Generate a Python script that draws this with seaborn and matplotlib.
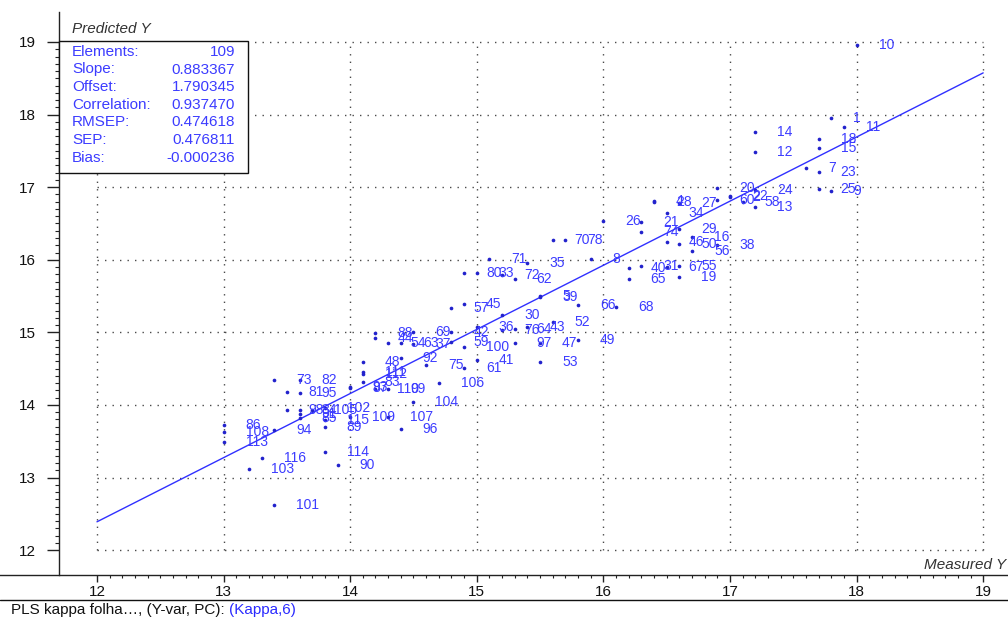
import matplotlib
matplotlib.use("Agg")
import numpy as np
import pandas as pd
import matplotlib.pyplot as plt
import seaborn as sns
from matplotlib.patches import Rectangle
from matplotlib.lines import Line2D
from matplotlib.ticker import FixedLocator

# ---------------------------------------------------------------- data
sample_ids = [10, 1, 11, 18, 15, 14, 12, 7, 23, 25,
              9, 20, 60, 22, 2, 58, 24, 13, 38, 16,
              56, 29, 50, 46, 34, 27, 28, 4, 21, 74,
              26, 31, 40, 65, 67, 55, 19, 8, 70, 78,
              66, 68, 49, 52, 47, 53, 39, 5, 43, 64,
              76, 97, 30, 36, 100, 41, 61, 42, 59, 57,
              45, 80, 33, 71, 72, 62, 35, 69, 63, 37,
              54, 88, 44, 48, 92, 75, 106, 104, 112, 111,
              83, 93, 87, 110, 99, 102, 109, 115, 89, 107,
              96, 105, 73, 82, 81, 95, 98, 84, 91, 85,
              94, 86, 108, 113, 116, 103, 101, 114, 90]

measured = [18.0, 17.8, 17.9, 17.7, 17.7, 17.2, 17.2, 17.6, 17.7, 17.7,
            17.8, 16.9, 16.9, 17.0, 17.0, 17.1, 17.2, 17.2, 16.9, 16.7,
            16.7, 16.6, 16.6, 16.5, 16.5, 16.6, 16.4, 16.4, 16.3, 16.3,
            16.0, 16.3, 16.2, 16.2, 16.5, 16.6, 16.6, 15.9, 15.6, 15.7,
            15.8, 16.1, 15.8, 15.6, 15.5, 15.5, 15.5, 15.5, 15.4, 15.3,
            15.2, 15.3, 15.2, 15.0, 14.9, 15.0, 14.9, 14.8, 14.8, 14.8,
            14.9, 14.9, 15.0, 15.1, 15.2, 15.3, 15.4, 14.5, 14.4, 14.5,
            14.3, 14.2, 14.2, 14.1, 14.4, 14.6, 14.7, 14.5, 14.1, 14.1,
            14.1, 14.0, 14.0, 14.2, 14.3, 13.8, 14.0, 13.8, 13.8, 14.3,
            14.4, 13.7, 13.4, 13.6, 13.5, 13.6, 13.5, 13.6, 13.6, 13.6,
            13.4, 13.0, 13.0, 13.0, 13.3, 13.2, 13.4, 13.8, 13.9]

predicted = [18.96, 17.95, 17.83, 17.66, 17.54, 17.76, 17.48, 17.26, 17.21, 16.98,
             16.95, 16.99, 16.82, 16.88, 16.87, 16.80, 16.96, 16.73, 16.20, 16.31,
             16.12, 16.42, 16.22, 16.25, 16.64, 16.78, 16.80, 16.81, 16.52, 16.38,
             16.53, 15.91, 15.89, 15.74, 15.90, 15.91, 15.76, 16.01, 16.27, 16.27,
             15.38, 15.35, 14.90, 15.14, 14.85, 14.59, 15.49, 15.50, 15.07, 15.05,
             15.03, 14.85, 15.24, 15.07, 14.80, 14.62, 14.51, 15.01, 14.87, 15.34,
             15.39, 15.82, 15.82, 16.01, 15.79, 15.74, 15.96, 15.01, 14.85, 14.84,
             14.85, 14.99, 14.92, 14.59, 14.65, 14.55, 14.30, 14.04, 14.43, 14.45,
             14.32, 14.25, 14.23, 14.22, 14.22, 13.96, 13.83, 13.79, 13.70, 13.83,
             13.67, 13.93, 14.34, 14.34, 14.18, 14.17, 13.93, 13.93, 13.88, 13.82,
             13.66, 13.72, 13.63, 13.49, 13.27, 13.12, 12.62, 13.35, 13.17]

stat_names = ["Elements:", "Slope:", "Offset:", "Correlation:", "RMSEP:", "SEP:", "Bias:"]
stat_values = ["109", "0.883367", "1.790345", "0.937470", "0.474618", "0.476811", "-0.000236"]
slope = 0.883367
offset = 1.790345

x_ticks = [12, 13, 14, 15, 16, 17, 18, 19]
y_ticks = [12, 13, 14, 15, 16, 17, 18, 19]

# ---------------------------------------------------------------- style
sns.set_style("white")
plt.rcParams["font.family"] = ["Liberation Sans", "DejaVu Sans"]

point_color = "#2222cc"
label_color = "#3c3cff"
line_color = "#3030ff"
grid_color = "#4a4a4a"

W, H = 1008, 618
fig = plt.figure(figsize=(W / 100, H / 100), dpi=100)
fig.patch.set_facecolor("white")
ax = fig.add_axes([0, 43 / H, 1, 563 / H])
ax.set_facecolor("white")

df = pd.DataFrame({"id": sample_ids, "measured": measured, "predicted": predicted})

# dotted grid box over the integer range
lo, hi = x_ticks[0], x_ticks[-1]
ax.hlines(y_ticks, lo, hi, colors=grid_color, linewidth=1.0,
          linestyles=[(0, (1, 4.4))], zorder=1)
ax.vlines(x_ticks, y_ticks[0], y_ticks[-1], colors=grid_color, linewidth=1.0,
          linestyles=[(0, (1, 4.4))], zorder=1)

# regression line from the fitted slope / offset
fit_x = np.array([lo, hi], dtype=float)
sns.lineplot(x=fit_x, y=slope * fit_x + offset, ax=ax, color=line_color,
             linewidth=1.0, zorder=2)

sns.scatterplot(data=df, x="measured", y="predicted", ax=ax, s=7,
                color=point_color, linewidth=0, zorder=3)

for sid, mx, py in zip(df["id"], df["measured"], df["predicted"]):
    ax.annotate(str(sid), (mx, py), xytext=(15.8, 0), textcoords="offset points",
                ha="left", va="center", fontsize=10, color=label_color, zorder=4)

ax.set_xlim(11.234, 19.196)
ax.set_ylim(11.658, 19.413)
ax.set_xlabel("")
ax.set_ylabel("")

for side in ("top", "right"):
    ax.spines[side].set_visible(False)
ax.spines["left"].set_position(("data", 11.70))
for side in ("left", "bottom"):
    ax.spines[side].set_color("#222222")
    ax.spines[side].set_linewidth(1.0)

ax.xaxis.set_major_locator(FixedLocator(x_ticks))
ax.yaxis.set_major_locator(FixedLocator(y_ticks))
ax.xaxis.set_minor_locator(FixedLocator(np.arange(120, 191) / 10))
ax.yaxis.set_minor_locator(FixedLocator(np.arange(120, 191) / 10))
ax.set_xticklabels([str(t) for t in x_ticks])
ax.set_yticklabels([str(t) for t in y_ticks])
ax.tick_params(which="both", bottom=True, left=True, direction="out",
               color="#222222", labelcolor="#111111")
ax.tick_params(axis="x", which="major", length=5, width=1, pad=2, labelsize=11)
ax.tick_params(axis="x", which="minor", length=2.2, width=0.8)
ax.tick_params(axis="y", which="major", length=9, width=1, pad=8, labelsize=11)
ax.tick_params(axis="y", which="minor", length=2.8, width=0.8)

# axis titles
fig.text(72 / W, 1 - 29 / H, "Predicted Y", ha="left", va="center",
         fontsize=11, style="italic", color="#333333")
fig.text(1006 / W, 1 - 565 / H, "Measured Y", ha="right", va="center",
         fontsize=11, style="italic", color="#333333")

# statistics panel
box = Rectangle((59 / W, 1 - 173 / H), 189 / W, 132 / H, transform=fig.transFigure,
                facecolor="white", edgecolor="#111111", linewidth=1.0, zorder=5)
fig.add_artist(box)
row_y = [52, 69.5, 87, 105, 122.5, 140, 158]
for name, val, ry in zip(stat_names, stat_values, row_y):
    fig.text(72 / W, 1 - ry / H, name, ha="left", va="center", fontsize=11,
             color=label_color, zorder=6)
    fig.text(235 / W, 1 - ry / H, val, ha="right", va="center", fontsize=11,
             color=label_color, zorder=6)

# footer
fig.add_artist(Line2D([0, 1], [1 - 600 / H, 1 - 600 / H], transform=fig.transFigure,
                      color="#111111", linewidth=1.0))
footer = fig.text(11 / W, 1 - 610 / H, "PLS kappa folha…, (Y-var, PC): ",
                  ha="left", va="center", fontsize=11, color="#111111")
fig.canvas.draw()
bb = footer.get_window_extent(renderer=fig.canvas.get_renderer())
fig.text(bb.x1 / W, 1 - 610 / H, "(Kappa,6)", ha="left", va="center",
         fontsize=11, color="#2a2aff")

fig.savefig("out.png", dpi=100, facecolor="white")
